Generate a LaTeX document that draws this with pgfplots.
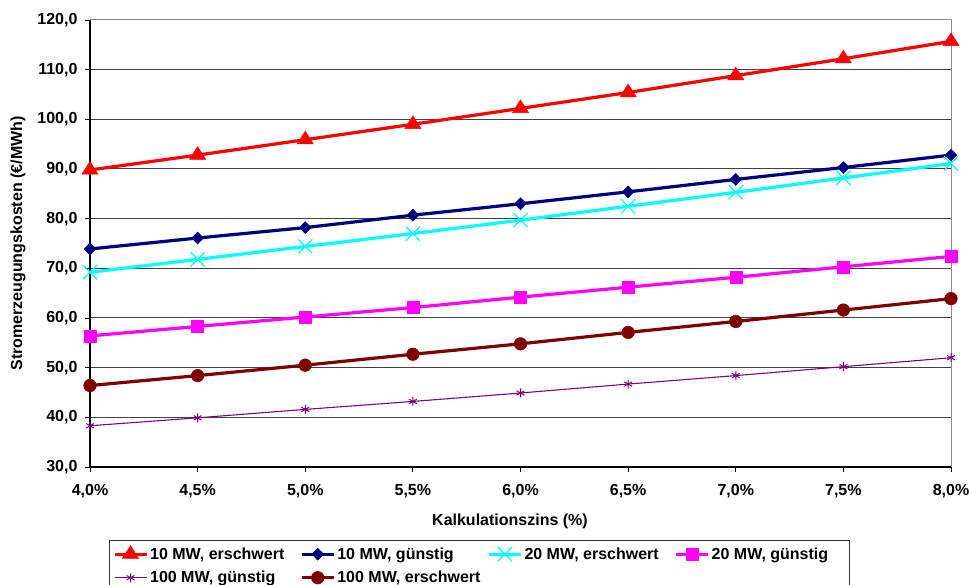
\documentclass[border=0pt]{standalone}
\usepackage{fontspec}
\setmainfont{Liberation Sans}
\usepackage{pgfplots}
\pgfplotsset{compat=1.18}
\definecolor{navy}{HTML}{000080}
\definecolor{cyanx}{HTML}{00FFFF}
\definecolor{magx}{HTML}{FF00FF}
\definecolor{purpx}{HTML}{800080}
\definecolor{maroonx}{HTML}{800000}
\newcommand{\F}{\fontsize{16}{19}\selectfont\bfseries}
\newcommand{\LE}[1]{\makebox[148pt][l]{#1}}
\begin{document}
\begin{tikzpicture}
\begin{axis}[
  scale only axis, width=861pt, height=447pt,
  xmin=4, xmax=8, ymin=30, ymax=120,
  clip=false,
  xtick={4,4.5,5,5.5,6,6.5,7,7.5,8},
  ytick={30,40,50,60,70,80,90,100,110,120},
  /pgf/number format/assume math mode=true,
  xticklabel={\pgfmathprintnumber[fixed,fixed zerofill,precision=1,use comma]{\tick}\%},
  yticklabel={\pgfmathprintnumber[fixed,fixed zerofill,precision=1,use comma]{\tick}},
  tick label style={font=\F, text=black},
  xticklabel style={yshift=-9pt},
  yticklabel style={xshift=-4pt},
  ymajorgrids, grid style={black!75, line width=1pt},
  axis line style={draw=none},
  tick style={black, line width=0.9pt},
  major tick length=5pt, tick align=outside, xtick pos=bottom, ytick pos=left,
  xlabel={Kalkulationszins (\%)},
  ylabel={Stromerzeugungskosten (€/MWh)},
  label style={font=\F},
  xlabel style={at={(rel axis cs:0.4878,-0.1225)}, anchor=center},
  ylabel style={at={(rel axis cs:-0.0836,0.5)}, anchor=center},
  legend columns=4,
  legend image code/.code={\draw[mark repeat=2, mark phase=2, #1] plot coordinates {(0pt,0pt) (16pt,0pt) (32pt,0pt)};},
  legend style={at={(rel axis cs:0.0215,-0.1638)}, anchor=north west,
    draw=black!80, line width=0.8pt, font=\F, inner xsep=4pt, inner ysep=5pt,
    /tikz/column sep=0pt, /tikz/row sep=6.5pt,
    cells={anchor=west}},
]
\coordinate (LL) at (rel axis cs:0,0);
\coordinate (UR) at (rel axis cs:1,1);
\draw[black!45, line width=1pt] (rel axis cs:0,1) -- (rel axis cs:1,1) -- (rel axis cs:1,0);
\draw[black, line width=1.2pt] (rel axis cs:0,1) -- (rel axis cs:0,0) -- (rel axis cs:1,0);

\addplot[color=red, line width=3.2pt, mark=triangle*, mark size=8.5pt, mark options={solid, line width=0.5pt, xscale=1.1}]
  coordinates {(4,89.8) (4.5,92.8) (5,95.9) (5.5,99.0) (6,102.2) (6.5,105.4) (7,108.8) (7.5,112.2) (8,115.7)};
\addlegendentry{\LE{10 MW, erschwert}}
\addplot[color=navy, line width=3.2pt, mark=diamond*, mark size=6pt, mark options={solid, line width=0.5pt, xscale=1.3}]
  coordinates {(4,73.9) (4.5,76.1) (5,78.2) (5.5,80.7) (6,83.0) (6.5,85.4) (7,87.9) (7.5,90.3) (8,92.8)};
\addlegendentry{\LE{10 MW, günstig}}
\addplot[color=cyanx, line width=3.2pt, mark=x, mark size=10pt, mark options={solid, line width=1.2pt}]
  coordinates {(4,69.2) (4.5,71.8) (5,74.4) (5.5,77.0) (6,79.7) (6.5,82.5) (7,85.3) (7.5,88.2) (8,91.1)};
\addlegendentry{\LE{20 MW, erschwert}}
\addplot[color=magx, line width=3.2pt, mark=square*, mark size=6pt, mark options={solid, line width=0.5pt}]
  coordinates {(4,56.4) (4.5,58.3) (5,60.2) (5.5,62.1) (6,64.2) (6.5,66.2) (7,68.2) (7.5,70.3) (8,72.4)};
\addlegendentry{\makebox[132pt][l]{20 MW, günstig}}
\addplot[color=purpx, line width=1.1pt, mark=asterisk, mark size=4.5pt, mark options={solid, line width=1pt}]
  coordinates {(4,38.3) (4.5,39.9) (5,41.6) (5.5,43.2) (6,44.9) (6.5,46.7) (7,48.4) (7.5,50.2) (8,52.0)};
\addlegendentry{\LE{100 MW, günstig}}
\addplot[color=maroonx, line width=3.2pt, mark=*, mark size=6.3pt, mark options={solid, line width=0.5pt}]
  coordinates {(4,46.4) (4.5,48.4) (5,50.5) (5.5,52.7) (6,54.8) (6.5,57.1) (7,59.3) (7.5,61.6) (8,63.9)};
\addlegendentry{\LE{100 MW, erschwert}}
\end{axis}
\pgfresetboundingbox
\path[use as bounding box] ([shift={(-90pt,-118pt)}]LL) rectangle ([shift={(18pt,20pt)}]UR);
\end{tikzpicture}
\end{document}
